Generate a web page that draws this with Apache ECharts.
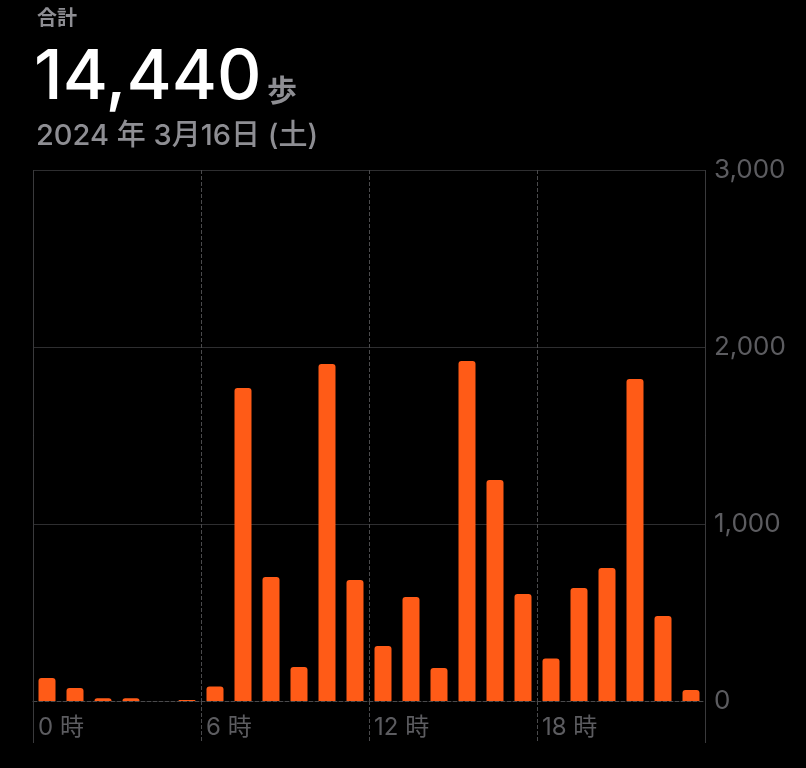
<!DOCTYPE html>
<html>
<head>
<meta charset="utf-8">
<script src="https://cdn.jsdelivr.net/npm/echarts@6/dist/echarts.min.js"></script>
<style>
html,body{margin:0;padding:0;background:#000;}
#chart{width:806px;height:768px;}
</style>
</head>
<body>
<div id="chart"></div>
<script>
const hours = ['0','1','2','3','4','5','6','7','8','9','10','11','12','13','14','15','16','17','18','19','20','21','22','23'];
const steps = [130, 73, 15, 15, 0, 5, 82, 1768, 700, 192, 1904, 684, 311, 588, 186, 1921, 1249, 605, 240, 638, 751, 1819, 480, 62];
const xTickLabels = ['0 時', '6 時', '12 時', '18 時'];
const totalLabel = '合計';
const totalValue = '14,440';
const totalUnit = '歩';
const dateLabel = '2024 年 3月16日 (土)';

const FONT = "Inter, 'Noto Sans CJK JP', sans-serif";
const GRAY = '#8e8e93';
const AXIS_TEXT = '#5c5c60';
const GRID_LINE = '#2e2e30';
const DASH_LINE = '#4a4a4c';

const chart = echarts.init(document.getElementById('chart'));
chart.setOption({
  backgroundColor: '#000',
  animation: false,
  textStyle: { fontFamily: FONT },
  title: [
    { text: totalLabel, left: 32, top: 4,
      textStyle: { color: GRAY, fontSize: 20, fontWeight: 600, fontFamily: FONT } },
    { text: '{v|' + totalValue + '} {u|' + totalUnit + '}', left: 29, top: 39,
      textStyle: { rich: {
        v: { color: '#fff', fontSize: 69, fontWeight: 500, fontFamily: FONT },
        u: { color: GRAY, fontSize: 30, fontWeight: 600, fontFamily: FONT, padding: [26, 0, 0, 1] }
      } } },
    { text: dateLabel, left: 31, top: 117,
      textStyle: { color: GRAY, fontSize: 29, fontWeight: 500, fontFamily: FONT } }
  ],
  grid: { left: 33, right: 101, top: 170, bottom: 67, containLabel: false },
  xAxis: [
    { type: 'category', data: hours, position: 'bottom', boundaryGap: true,
      axisLine: { show: true, lineStyle: { color: DASH_LINE, type: 'dashed', width: 1 } },
      axisTick: { show: true, interval: 5, length: 42, lineStyle: { color: DASH_LINE, type: 'dashed' } },
      splitLine: { show: true, interval: 5, lineStyle: { color: DASH_LINE, type: 'dashed' } },
      axisLabel: { show: false } },
    { type: 'value', min: 0, max: 24, interval: 6, position: 'bottom',
      axisLine: { show: false }, axisTick: { show: false }, splitLine: { show: false },
      axisLabel: { show: true, margin: 15, align: 'left', padding: [0, 0, 0, 5],
        color: AXIS_TEXT, fontSize: 24, fontFamily: FONT,
        formatter: v => xTickLabels[v / 6] || '' } },
    { type: 'value', min: 0, max: 24, interval: 24, position: 'bottom',
      axisLine: { show: false },
      axisTick: { show: true, length: 42, lineStyle: { color: '#3a3a3c', type: 'solid' } },
      splitLine: { show: true, lineStyle: { color: '#3a3a3c', type: 'solid' } },
      axisLabel: { show: false } }
  ],
  yAxis: {
    type: 'value', position: 'right', min: 0, max: 3000, interval: 1000,
    axisLine: { show: false }, axisTick: { show: false },
    splitLine: { show: true, showMinLine: false, lineStyle: { color: GRID_LINE } },
    axisLabel: { color: AXIS_TEXT, fontSize: 26, margin: 9, fontFamily: FONT,
      formatter: v => v.toLocaleString('en-US') }
  },
  series: [{
    type: 'bar', xAxisIndex: 0, yAxisIndex: 0, data: steps,
    barWidth: 17,
    itemStyle: { color: '#ff5b17', borderRadius: [3, 3, 0, 0] }
  }]
});
</script>
</body>
</html>
